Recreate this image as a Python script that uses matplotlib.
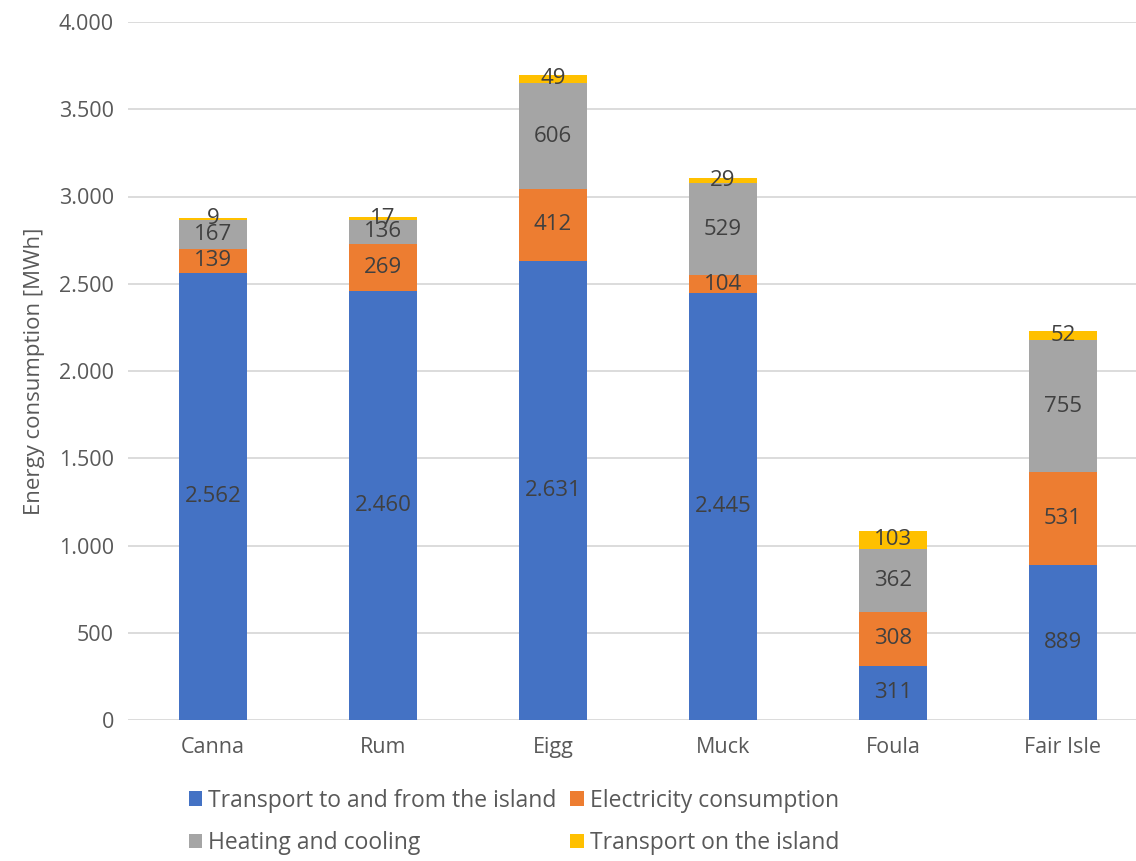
import numpy as np
import matplotlib
matplotlib.use('Agg')
import matplotlib.pyplot as plt
from matplotlib.ticker import FuncFormatter

plt.rcParams['font.family'] = ['Open Sans', 'DejaVu Sans']

islands = ['Canna', 'Rum', 'Eigg', 'Muck', 'Foula', 'Fair Isle']
transport_to_from = [2562, 2460, 2631, 2445, 311, 889]
electricity = [139, 269, 412, 104, 308, 531]
heating_cooling = [167, 136, 606, 529, 362, 755]
transport_on = [9, 17, 49, 29, 103, 52]

series = [
    ('Transport to and from the island', transport_to_from, '#4472C4'),
    ('Electricity consumption', electricity, '#ED7D31'),
    ('Heating and cooling', heating_cooling, '#A5A5A5'),
    ('Transport on the island', transport_on, '#FFC000'),
]


def dotted(v, pos=None):
    return f'{int(v):,}'.replace(',', '.')


fig = plt.figure(figsize=(11.36, 8.61), dpi=100)
ax = fig.add_axes([128 / 1136, 1 - 720 / 861, (1148 - 128) / 1136, (720 - 22) / 861])

x = np.arange(len(islands))
bottom = np.zeros(len(islands))
handles = []
for name, vals, col in series:
    vals = np.array(vals, dtype=float)
    b = ax.bar(x, vals, 0.4, bottom=bottom, color=col, label=name, zorder=3)
    handles.append(b)
    for xi, bi, vi in zip(x, bottom, vals):
        ax.text(xi, bi + vi / 2, dotted(vi), ha='center', va='center',
                fontsize=16, color='#404040', zorder=4)
    bottom += vals

ax.set_xlim(-0.5, 5.5)
ax.set_ylim(0, 4000)
ax.set_yticks(np.arange(0, 4001, 500))
ax.yaxis.set_major_formatter(FuncFormatter(dotted))
ax.set_xticks(x)
ax.set_xticklabels(islands)
ax.tick_params(axis='both', length=0, labelsize=15.5, labelcolor='#595959', pad=10)
ax.tick_params(axis='x', pad=12)
ax.grid(axis='y', color='#D9D9D9', linewidth=1.3, zorder=0)
for s in ax.spines.values():
    s.set_visible(False)
ax.set_ylabel('Energy consumption [MWh]', fontsize=16, color='#595959', labelpad=10)

# row-wise order for a 2-column legend
order = [0, 2, 1, 3]
fig.legend(handles=[handles[i] for i in order], loc='lower left',
           bbox_to_anchor=(168 / 1136, -0.017),
           ncol=2, frameon=False, fontsize=16.5, labelcolor='#595959',
           handlelength=0.6, handleheight=0.6, handletextpad=0.25,
           columnspacing=0.6, labelspacing=0.8)

fig.savefig('out.png', dpi=100)
